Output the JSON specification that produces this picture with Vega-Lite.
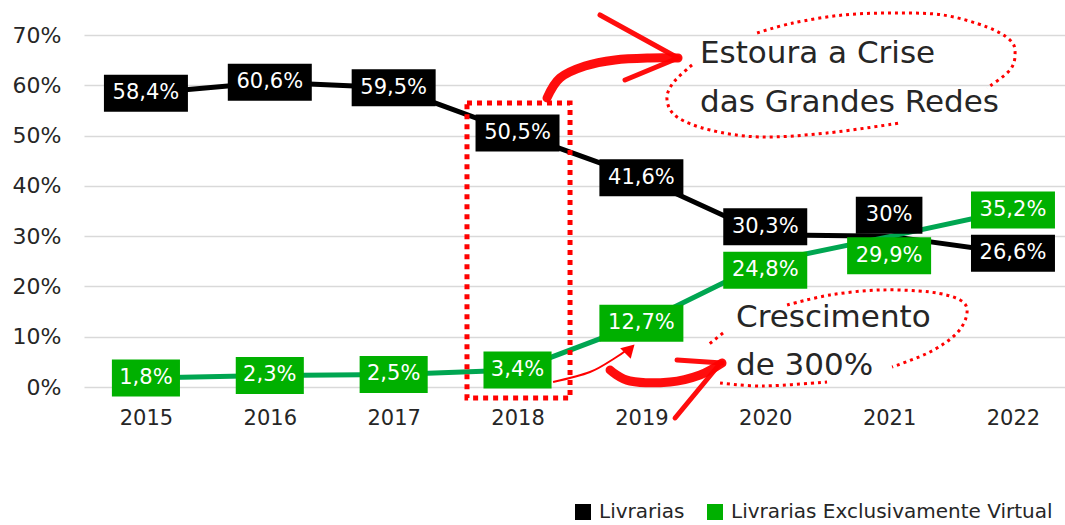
{
  "$schema": "https://vega.github.io/schema/vega-lite/v6.json",
  "width": 981,
  "height": 352,
  "autosize": {"type": "none"},
  "padding": {"left": 84, "top": 35, "right": 0, "bottom": 138},
  "background": "white",
  "config": {"view": {"stroke": null}, "font": "DejaVu Sans"},
  "datasets": {
    "main": [
      {"year": 2015, "series": "Livrarias", "pct": 58.4, "label": "58,4%"},
      {"year": 2016, "series": "Livrarias", "pct": 60.6, "label": "60,6%"},
      {"year": 2017, "series": "Livrarias", "pct": 59.5, "label": "59,5%"},
      {"year": 2018, "series": "Livrarias", "pct": 50.5, "label": "50,5%"},
      {"year": 2019, "series": "Livrarias", "pct": 41.6, "label": "41,6%"},
      {"year": 2020, "series": "Livrarias", "pct": 30.3, "label": "30,3%"},
      {"year": 2021, "series": "Livrarias", "pct": 30.0, "label": "30%"},
      {"year": 2022, "series": "Livrarias", "pct": 26.6, "label": "26,6%"},
      {"year": 2015, "series": "Livrarias Exclusivamente Virtual", "pct": 1.8, "label": "1,8%"},
      {"year": 2016, "series": "Livrarias Exclusivamente Virtual", "pct": 2.3, "label": "2,3%"},
      {"year": 2017, "series": "Livrarias Exclusivamente Virtual", "pct": 2.5, "label": "2,5%"},
      {"year": 2018, "series": "Livrarias Exclusivamente Virtual", "pct": 3.4, "label": "3,4%"},
      {"year": 2019, "series": "Livrarias Exclusivamente Virtual", "pct": 12.7, "label": "12,7%"},
      {"year": 2020, "series": "Livrarias Exclusivamente Virtual", "pct": 24.8, "label": "24,8%"},
      {"year": 2021, "series": "Livrarias Exclusivamente Virtual", "pct": 29.9, "label": "29,9%"},
      {"year": 2022, "series": "Livrarias Exclusivamente Virtual", "pct": 35.2, "label": "35,2%"}
    ],
    "ann": [
      {"seg": "e1a", "kind": "dot", "i": 0, "year": 2019.934, "pct": 70.40},
      {"seg": "e1a", "kind": "dot", "i": 1, "year": 2020.224, "pct": 72.39},
      {"seg": "e1a", "kind": "dot", "i": 2, "year": 2020.628, "pct": 73.98},
      {"seg": "e1a", "kind": "dot", "i": 3, "year": 2021.032, "pct": 74.37},
      {"seg": "e1a", "kind": "dot", "i": 4, "year": 2021.435, "pct": 73.98},
      {"seg": "e1a", "kind": "dot", "i": 5, "year": 2021.790, "pct": 71.59},
      {"seg": "e1a", "kind": "dot", "i": 6, "year": 2021.976, "pct": 69.00},
      {"seg": "e1a", "kind": "dot", "i": 7, "year": 2022.017, "pct": 66.42},
      {"seg": "e1a", "kind": "dot", "i": 8, "year": 2021.976, "pct": 63.04},
      {"seg": "e1a", "kind": "dot", "i": 9, "year": 2021.790, "pct": 59.46},
      {"seg": "e1b", "kind": "dot", "i": 0, "year": 2019.409, "pct": 64.03},
      {"seg": "e1b", "kind": "dot", "i": 1, "year": 2019.255, "pct": 60.45},
      {"seg": "e1b", "kind": "dot", "i": 2, "year": 2019.207, "pct": 57.07},
      {"seg": "e1b", "kind": "dot", "i": 3, "year": 2019.288, "pct": 53.69},
      {"seg": "e1b", "kind": "dot", "i": 4, "year": 2019.554, "pct": 51.11},
      {"seg": "e1b", "kind": "dot", "i": 5, "year": 2019.958, "pct": 49.72},
      {"seg": "e1b", "kind": "dot", "i": 6, "year": 2020.499, "pct": 50.51},
      {"seg": "e1b", "kind": "dot", "i": 7, "year": 2021.088, "pct": 52.50},
      {"seg": "e2a", "kind": "dot", "i": 0, "year": 2020.176, "pct": 16.31},
      {"seg": "e2a", "kind": "dot", "i": 1, "year": 2020.523, "pct": 18.30},
      {"seg": "e2a", "kind": "dot", "i": 2, "year": 2020.927, "pct": 19.29},
      {"seg": "e2a", "kind": "dot", "i": 3, "year": 2021.330, "pct": 18.89},
      {"seg": "e2a", "kind": "dot", "i": 4, "year": 2021.573, "pct": 17.30},
      {"seg": "e2a", "kind": "dot", "i": 5, "year": 2021.629, "pct": 14.72},
      {"seg": "e2a", "kind": "dot", "i": 6, "year": 2021.548, "pct": 10.74},
      {"seg": "e2a", "kind": "dot", "i": 7, "year": 2021.330, "pct": 6.96},
      {"seg": "e2a", "kind": "dot", "i": 8, "year": 2021.024, "pct": 3.98},
      {"seg": "e2b", "kind": "dot", "i": 0, "year": 2019.659, "pct": 10.74},
      {"seg": "e2b", "kind": "dot", "i": 1, "year": 2019.538, "pct": 8.35},
      {"seg": "e2c", "kind": "dot", "i": 0, "year": 2019.635, "pct": 0.80},
      {"seg": "e2c", "kind": "dot", "i": 1, "year": 2019.982, "pct": 0.20},
      {"seg": "e2c", "kind": "dot", "i": 2, "year": 2020.499, "pct": 0.99},
      {"seg": "a1", "kind": "brush", "i": 0, "year": 2018.238, "pct": 57.47},
      {"seg": "a1", "kind": "brush", "i": 1, "year": 2018.343, "pct": 61.45},
      {"seg": "a1", "kind": "brush", "i": 2, "year": 2018.545, "pct": 63.83},
      {"seg": "a1", "kind": "brush", "i": 3, "year": 2018.787, "pct": 65.03},
      {"seg": "a1", "kind": "brush", "i": 4, "year": 2019.070, "pct": 65.43},
      {"seg": "a1", "kind": "brush", "i": 5, "year": 2019.296, "pct": 65.43},
      {"seg": "a1u", "kind": "barb", "i": 0, "year": 2018.666, "pct": 73.98},
      {"seg": "a1u", "kind": "barb", "i": 1, "year": 2019.296, "pct": 65.43},
      {"seg": "a1l", "kind": "barb", "i": 0, "year": 2019.296, "pct": 65.43},
      {"seg": "a1l", "kind": "barb", "i": 1, "year": 2018.868, "pct": 61.05},
      {"seg": "a2", "kind": "brush", "i": 0, "year": 2018.747, "pct": 3.38},
      {"seg": "a2", "kind": "brush", "i": 1, "year": 2018.908, "pct": 1.19},
      {"seg": "a2", "kind": "brush", "i": 2, "year": 2019.231, "pct": 0.99},
      {"seg": "a2", "kind": "brush", "i": 3, "year": 2019.473, "pct": 2.39},
      {"seg": "a2", "kind": "brush", "i": 4, "year": 2019.651, "pct": 4.77},
      {"seg": "a2u", "kind": "barb", "i": 0, "year": 2019.288, "pct": 5.37},
      {"seg": "a2u", "kind": "barb", "i": 1, "year": 2019.651, "pct": 4.77},
      {"seg": "a2l", "kind": "barb", "i": 0, "year": 2019.272, "pct": -6.16},
      {"seg": "a2l", "kind": "barb", "i": 1, "year": 2019.619, "pct": 4.18},
      {"seg": "a3", "kind": "thin", "i": 0, "year": 2018.287, "pct": 0.99},
      {"seg": "a3", "kind": "thin", "i": 1, "year": 2018.585, "pct": 2.98},
      {"seg": "a3", "kind": "thin", "i": 2, "year": 2018.787, "pct": 5.77},
      {"seg": "a3", "kind": "thin", "i": 3, "year": 2018.892, "pct": 7.56}
    ],
    "notes": [
      {"year": 2019.473, "pct": 64.37, "txt": "Estoura a Crise"},
      {"year": 2019.473, "pct": 54.75, "txt": "das Grandes Redes"},
      {"year": 2019.764, "pct": 11.99, "txt": "Crescimento"},
      {"year": 2019.764, "pct": 2.39, "txt": "de 300%"}
    ]
  },
  "encoding": {
    "x": {
      "field": "year", "type": "quantitative",
      "scale": {"domain": [2014.5, 2022.42], "nice": false, "zero": false},
      "axis": {"title": null, "values": [2015, 2016, 2017, 2018, 2019, 2020, 2021, 2022], "format": "d", "grid": false, "ticks": false, "tickSize": 0, "domain": false, "labelPadding": 20, "labelFontSize": 21, "labelColor": "#262626", "labelFlush": false, "labelOverlap": false}
    },
    "y": {
      "field": "pct", "type": "quantitative",
      "scale": {"domain": [0, 70], "nice": false, "zero": false},
      "axis": {"title": null, "values": [0, 10, 20, 30, 40, 50, 60, 70], "labelExpr": "datum.value + '%'", "grid": true, "gridColor": "#d9d9d9", "gridWidth": 1.5, "domain": false, "ticks": false, "tickSize": 0, "labelPadding": 23, "labelFontSize": 22, "labelColor": "#262626"}
    }
  },
  "layer": [
    {
      "data": {"name": "main"},
      "transform": [{"filter": "datum.series === 'Livrarias'"}],
      "mark": {"type": "line", "strokeWidth": 5, "color": "#000000"},
      "encoding": {"order": {"field": "year"}}
    },
    {
      "data": {"name": "main"},
      "transform": [{"filter": "datum.series !== 'Livrarias'"}],
      "mark": {"type": "line", "strokeWidth": 5, "color": "#00A651"},
      "encoding": {"order": {"field": "year"}}
    },
    {
      "data": {"values": [{"year": 2017.592, "year2": 2018.424, "pct": 56.48, "pct2": -2.19}]},
      "mark": {"type": "rect", "fill": null, "fillOpacity": 0, "stroke": "#FF0000", "strokeWidth": 5, "strokeDash": [5, 5]},
      "encoding": {"x2": {"field": "year2"}, "y2": {"field": "pct2"}}
    },
    {
      "data": {"name": "main"},
      "layer": [
        {
          "transform": [{"filter": "datum.year < 2020 || datum.year > 2021"}],
          "layer": [
            {"mark": {"type": "point", "filled": true, "opacity": 1, "size": 1369, "strokeWidth": 0},
             "encoding": {
               "fill": {"field": "series", "type": "nominal", "scale": {"domain": ["Livrarias", "Livrarias Exclusivamente Virtual"], "range": ["#000000", "#00B000"]},
                 "legend": {"title": null, "orient": "none", "legendX": 489, "legendY": 467, "direction": "horizontal", "symbolType": "square", "symbolSize": 256, "symbolStrokeWidth": 0, "labelFontSize": 20, "labelColor": "#262626", "columnPadding": 20, "labelOffset": 6, "labelLimit": 1000}},
               "shape": {"condition": {"test": "datum.label && length(datum.label) < 5", "value": "M-1.84,-1H1.84V1H-1.84Z"}, "value": "M-2.27,-1H2.27V1H-2.27Z"}
             }},
            {"mark": {"type": "text", "color": "white", "fontSize": 21, "baseline": "middle", "align": "center"}, "encoding": {"text": {"field": "label"}}}
          ]
        },
        {
          "transform": [{"filter": "datum.series === 'Livrarias' && datum.year === 2020"}],
          "layer": [
            {"mark": {"type": "point", "filled": true, "opacity": 1, "size": 1369, "strokeWidth": 0, "yOffset": -8, "color": "#000000", "shape": "M-2.27,-1H2.27V1H-2.27Z"}},
            {"mark": {"type": "text", "color": "white", "fontSize": 21, "baseline": "middle", "align": "center", "yOffset": -8}, "encoding": {"text": {"field": "label"}}}
          ]
        },
        {
          "transform": [{"filter": "datum.series === 'Livrarias' && datum.year === 2021"}],
          "layer": [
            {"mark": {"type": "point", "filled": true, "opacity": 1, "size": 1369, "strokeWidth": 0, "yOffset": -21, "color": "#000000", "shape": "M-1.8,-1H1.8V1H-1.8Z"}},
            {"mark": {"type": "text", "color": "white", "fontSize": 21, "baseline": "middle", "align": "center", "yOffset": -21}, "encoding": {"text": {"field": "label"}}}
          ]
        },
        {
          "transform": [{"filter": "datum.series !== 'Livrarias' && datum.year === 2020"}],
          "layer": [
            {"mark": {"type": "point", "filled": true, "opacity": 1, "size": 1369, "strokeWidth": 0, "yOffset": 8, "color": "#00B000", "shape": "M-2.27,-1H2.27V1H-2.27Z"}},
            {"mark": {"type": "text", "color": "white", "fontSize": 21, "baseline": "middle", "align": "center", "yOffset": 8}, "encoding": {"text": {"field": "label"}}}
          ]
        },
        {
          "transform": [{"filter": "datum.series !== 'Livrarias' && datum.year === 2021"}],
          "layer": [
            {"mark": {"type": "point", "filled": true, "opacity": 1, "size": 1369, "strokeWidth": 0, "yOffset": 19, "color": "#00B000", "shape": "M-2.27,-1H2.27V1H-2.27Z"}},
            {"mark": {"type": "text", "color": "white", "fontSize": 21, "baseline": "middle", "align": "center", "yOffset": 19}, "encoding": {"text": {"field": "label"}}}
          ]
        }
      ]
    },
    {
      "data": {"name": "ann"},
      "transform": [{"filter": "datum.kind === 'dot'"}],
      "mark": {"type": "line", "interpolate": "cardinal", "color": "#FF0000", "strokeWidth": 3, "strokeDash": [3, 4]},
      "encoding": {"detail": {"field": "seg"}, "order": {"field": "i"}}
    },
    {
      "data": {"name": "ann"},
      "transform": [{"filter": "datum.kind === 'brush'"}],
      "mark": {"type": "line", "interpolate": "cardinal", "color": "#FF0000", "strokeWidth": 9, "strokeCap": "round", "opacity": 0.95},
      "encoding": {"detail": {"field": "seg"}, "order": {"field": "i"}}
    },
    {
      "data": {"name": "ann"},
      "transform": [{"filter": "datum.kind === 'barb'"}],
      "mark": {"type": "line", "color": "#FF0000", "strokeWidth": 5, "strokeCap": "round", "opacity": 0.95},
      "encoding": {"detail": {"field": "seg"}, "order": {"field": "i"}}
    },
    {
      "data": {"name": "ann"},
      "transform": [{"filter": "datum.kind === 'thin'"}],
      "mark": {"type": "line", "interpolate": "cardinal", "color": "#FF0000", "strokeWidth": 2},
      "encoding": {"detail": {"field": "seg"}, "order": {"field": "i"}}
    },
    {
      "data": {"values": [{"year": 2018.908, "pct": 7.56}]},
      "mark": {"type": "point", "shape": "triangle-right", "filled": true, "color": "#FF0000", "size": 220, "angle": -45, "opacity": 1}
    },
    {
      "data": {"name": "notes"},
      "mark": {"type": "text", "align": "left", "baseline": "alphabetic", "fontSize": 31, "color": "#262626"},
      "encoding": {"text": {"field": "txt"}}
    }
  ]
}
